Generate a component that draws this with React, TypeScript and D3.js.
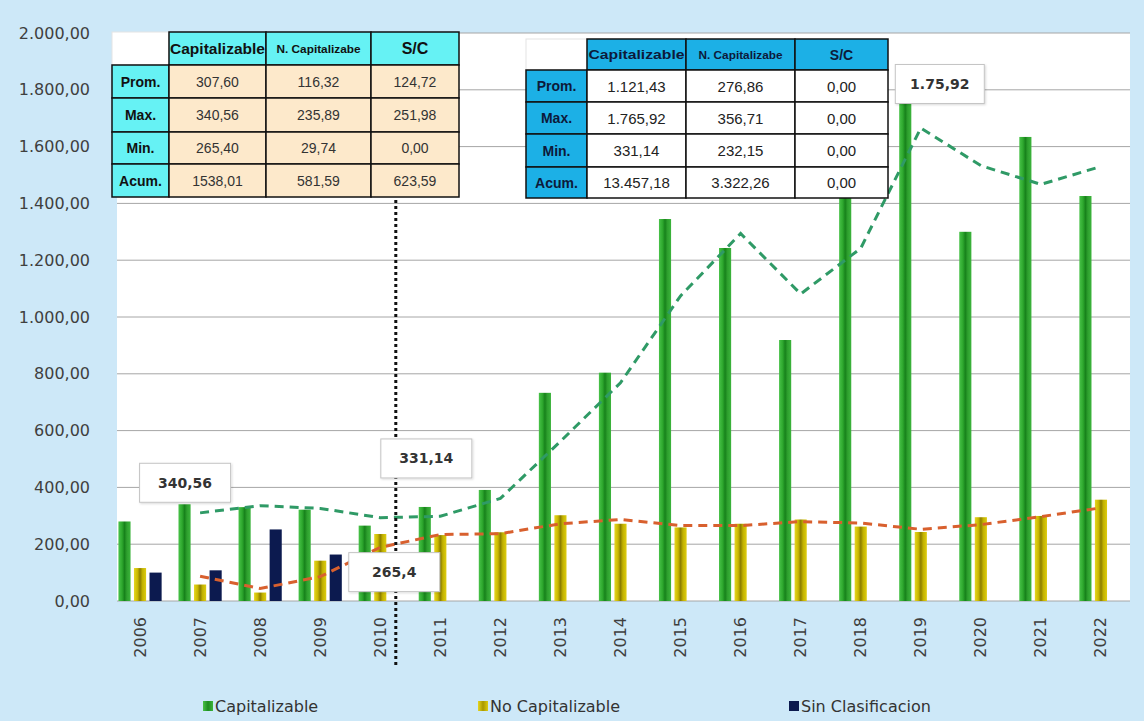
import React from "react";
import * as d3 from "d3";

const years = ["2006","2007","2008","2009","2010","2011","2012","2013","2014","2015","2016","2017","2018","2019","2020","2021","2022"];
const capitalizable = [280, 340.56, 330.5, 321.55, 265.4, 331.14, 391, 733, 804, 1345, 1243, 919, 1565, 1765.92, 1300, 1634, 1426];
const noCapitalizable = [116, 58, 29.74, 142, 235.89, 232.15, 242, 302, 272, 259, 272, 287, 262, 243, 295, 299.4, 356.71];
const sinClasificacion = [100, 108, 251.98, 163.61, 0, 0, 0, 0, 0, 0, 0, 0, 0, 0, 0, 0, 0];
const seriesNames = ["Capitalizable", "No Capitalizable", "Sin Clasificacion"];
const yTicks = [0, 200, 400, 600, 800, 1000, 1200, 1400, 1600, 1800, 2000];

const tableRowLabels = ["Prom.", "Max.", "Min.", "Acum."];
const tableHeaders = ["Capitalizable", "N. Capitalizabe", "S/C"];
const leftTableValues = [
  ["307,60", "116,32", "124,72"],
  ["340,56", "235,89", "251,98"],
  ["265,40", "29,74", "0,00"],
  ["1538,01", "581,59", "623,59"],
];
const rightTableValues = [
  ["1.121,43", "276,86", "0,00"],
  ["1.765,92", "356,71", "0,00"],
  ["331,14", "232,15", "0,00"],
  ["13.457,18", "3.322,26", "0,00"],
];
const callouts = [
  { year: "2007", value: 340.56, label: "340,56", dx: -15, dy: -2, below: false },
  { year: "2011", value: 331.14, label: "331,14", dx: -14, dy: -29, below: false },
  { year: "2010", value: 265.4, label: "265,4", dx: 14, dy: 27, below: true },
  { year: "2019", value: 1765.92, label: "1.75,92", dx: 19, dy: 4, below: false },
];

const W = 1144, H = 721;
const plotLeft = 117, plotRight = 1130, plotTop = 33, plotBottom = 601;

const locale = d3.formatLocale({ decimal: ",", thousands: ".", grouping: [3], currency: ["", ""] });
const fmt = locale.format(",.2f");

export default function App() {
  const x = d3.scaleBand<string>().domain(years).range([110, 1131]).padding(0);
  const inner = d3.scaleBand<string>().domain(seriesNames).range([-21.6, 21.6]).paddingInner(0.22);
  const y = d3.scaleLinear().domain([0, 2000]).range([plotBottom, plotTop]);
  const cx = (yr: string) => (x(yr) as number) + x.bandwidth() / 2;
  const seriesData = [capitalizable, noCapitalizable, sinClasificacion];
  const fills = ["url(#gGreen)", "url(#gYellow)", "#0c1a4f"];

  const ma = (arr: number[]) => arr.map((v, i) => (i === 0 ? null : (v + arr[i - 1]) / 2));
  const line = d3.line<[string, number | null]>()
    .defined(d => d[1] !== null)
    .x(d => cx(d[0]))
    .y(d => y(d[1] as number));
  const maCap = years.map((yr, i) => [yr, ma(capitalizable)[i]] as [string, number | null]);
  const maNo = years.map((yr, i) => [yr, ma(noCapitalizable)[i]] as [string, number | null]);

  const dotX = cx("2010") + (inner("Sin Clasificacion") as number) + inner.bandwidth() / 2;

  const drawTable = (
    x0: number, y0: number, colW: number[], rowH: number[], values: string[][],
    headFill: string, dataFill: string, textColor: string, headColor: string,
    headSizes: number[], dataSize: number, headLens: (number | null)[]
  ) => {
    const xs = [x0];
    colW.forEach(w => xs.push(xs[xs.length - 1] + w));
    const ys = [y0];
    rowH.forEach(h => ys.push(ys[ys.length - 1] + h));
    const els: any[] = [];
    // top-left cell
    els.push(<rect key="tl" x={xs[0]} y={ys[0]} width={colW[0]} height={rowH[0]} fill="#fff" stroke="#e4e4e4" />);
    tableHeaders.forEach((h, j) => {
      els.push(<rect key={"h" + j} x={xs[j + 1]} y={ys[0]} width={colW[j + 1]} height={rowH[0]} fill={headFill} stroke="#111" strokeWidth={1.5} />);
      els.push(
        <text key={"ht" + j} x={xs[j + 1] + colW[j + 1] / 2} y={ys[0] + rowH[0] / 2} textAnchor="middle" dominantBaseline="central"
          fontFamily="'Liberation Sans Narrow', 'Liberation Sans', Arial, sans-serif" fontWeight="bold" fontSize={headSizes[j]} fill={headColor}
          {...(headLens[j] ? { textLength: headLens[j], lengthAdjust: "spacingAndGlyphs" } : {})}>{h}</text>
      );
    });
    tableRowLabels.forEach((r, i) => {
      els.push(<rect key={"r" + i} x={xs[0]} y={ys[i + 1]} width={colW[0]} height={rowH[i + 1]} fill={headFill} stroke="#111" strokeWidth={1.5} />);
      els.push(
        <text key={"rt" + i} x={xs[0] + colW[0] / 2} y={ys[i + 1] + rowH[i + 1] / 2} textAnchor="middle" dominantBaseline="central"
          fontFamily="'Liberation Sans Narrow', 'Liberation Sans', Arial, sans-serif" fontWeight="bold" fontSize={14} fill={headColor}>{r}</text>
      );
      values[i].forEach((v, j) => {
        els.push(<rect key={"c" + i + j} x={xs[j + 1]} y={ys[i + 1]} width={colW[j + 1]} height={rowH[i + 1]} fill={dataFill} stroke="#111" strokeWidth={1.5} />);
        els.push(
          <text key={"ct" + i + j} x={xs[j + 1] + colW[j + 1] / 2} y={ys[i + 1] + rowH[i + 1] / 2} textAnchor="middle" dominantBaseline="central"
            fontFamily="'Liberation Sans Narrow', 'Liberation Sans', Arial, sans-serif" fontSize={dataSize} fill={textColor}>{v}</text>
        );
      });
    });
    return els;
  };

  const legendItems = [
    { name: "Capitalizable", fill: "url(#gGreenL)", x: 203 },
    { name: "No Capitalizable", fill: "url(#gYellowL)", x: 478 },
    { name: "Sin Clasificacion", fill: "#0c1a4f", x: 789 },
  ];

  return (
    <svg width={W} height={H} style={{ position: "absolute", left: 0, top: 0 }} xmlns="http://www.w3.org/2000/svg">
      <defs>
        <linearGradient id="gGreen" x1="0" x2="1" y1="0" y2="0">
          <stop offset="0%" stopColor="#48c248" />
          <stop offset="30%" stopColor="#2ea82e" />
          <stop offset="50%" stopColor="#17821b" />
          <stop offset="70%" stopColor="#2ea02e" />
          <stop offset="100%" stopColor="#3cb43c" />
        </linearGradient>
        <linearGradient id="gYellow" x1="0" x2="1" y1="0" y2="0">
          <stop offset="0%" stopColor="#e6d620" />
          <stop offset="30%" stopColor="#c9b800" />
          <stop offset="50%" stopColor="#8c7e00" />
          <stop offset="70%" stopColor="#c2b200" />
          <stop offset="100%" stopColor="#ddcc10" />
        </linearGradient>
        <linearGradient id="gGreenL" x1="0" x2="1" y1="0" y2="0">
          <stop offset="0%" stopColor="#48c248" />
          <stop offset="50%" stopColor="#1e8c20" />
          <stop offset="100%" stopColor="#3cb43c" />
        </linearGradient>
        <linearGradient id="gYellowL" x1="0" x2="1" y1="0" y2="0">
          <stop offset="0%" stopColor="#e6d620" />
          <stop offset="50%" stopColor="#a89800" />
          <stop offset="100%" stopColor="#ddcc10" />
        </linearGradient>
        <filter id="shadow" x="-10%" y="-10%" width="130%" height="140%">
          <feDropShadow dx="1" dy="1" stdDeviation="1" floodColor="#000" floodOpacity="0.15" />
        </filter>
      </defs>
      <rect x={0} y={0} width={W} height={H} fill="#cde8f8" />
      <rect x={plotLeft} y={plotTop} width={plotRight - plotLeft} height={plotBottom - plotTop} fill="#ffffff" />
      {/* gridlines */}
      {yTicks.map(t => (
        <line key={t} x1={plotLeft} x2={plotRight} y1={y(t)} y2={y(t)} stroke="#a6a6a6" strokeWidth={1} />
      ))}
      {/* y labels */}
      {yTicks.map(t => (
        <text key={"yl" + t} x={90} y={y(t)} textAnchor="end" dominantBaseline="central"
          fontFamily="'DejaVu Sans', Verdana, sans-serif" fontSize={16} fill="#3f3f3f">{fmt(t)}</text>
      ))}
      {/* bars */}
      {seriesData.map((arr, s) => (
        <g key={"s" + s}>
          {arr.map((v, i) => v > 0 ? (
            <rect key={i} x={cx(years[i]) + (inner(seriesNames[s]) as number)} y={y(v)} width={inner.bandwidth()}
              height={y(0) - y(v)} fill={fills[s]} />
          ) : null)}
        </g>
      ))}
      {/* x labels */}
      {years.map(yr => (
        <text key={"xl" + yr} transform={`translate(${cx(yr)},617) rotate(-90)`} textAnchor="end" dominantBaseline="central"
          fontFamily="'DejaVu Sans', Verdana, sans-serif" fontSize={16} fill="#3f3f3f">{yr}</text>
      ))}
      {/* moving averages */}
      <path d={line(maCap) as string} fill="none" stroke="#2f9a66" strokeWidth={3} strokeDasharray="9,6" />
      <path d={line(maNo) as string} fill="none" stroke="#d8602e" strokeWidth={3} strokeDasharray="9,6" />
      {/* dotted divider */}
      <line x1={dotX} x2={dotX} y1={200} y2={665} stroke="#111" strokeWidth={3} strokeDasharray="3,3" />
      {/* callouts */}
      {callouts.map(c => {
        const w = c.label.length > 6 ? 89 : 91;
        const h = 39;
        const xc = cx(c.year) + c.dx;
        const top = c.below ? y(c.value) + c.dy : y(c.value) + c.dy - h;
        return (
          <g key={c.label}>
            <rect x={xc - w / 2} y={top} width={w} height={h} fill="#fff" stroke="#c4c4c4" strokeWidth={1} filter="url(#shadow)" />
            <text x={xc} y={top + h / 2} textAnchor="middle" dominantBaseline="central"
              fontFamily="'DejaVu Sans', Verdana, sans-serif" fontWeight="bold" fontSize={14} fill="#333">{c.label}</text>
          </g>
        );
      })}
      {/* tables */}
      {drawTable(112, 32, [57, 97, 105, 88], [33, 33, 34, 32, 33], leftTableValues,
        "#66f2f4", "#fde9cb", "#333", "#111", [15, 11, 16], 14, [95, 84, null])}
      {drawTable(526, 39, [61, 99, 109, 93], [31, 32, 32, 33, 31], rightTableValues,
        "#1cb0e6", "#ffffff", "#222", "#0d1a3a", [13, 11, 14], 15, [96, 84, null])}
      {/* legend */}
      {legendItems.map(l => (
        <g key={l.name}>
          <rect x={l.x} y={701} width={10} height={10} fill={l.fill} />
          <text x={l.x + 12} y={706} dominantBaseline="central" fontFamily="'DejaVu Sans', Verdana, sans-serif"
            fontSize={16} fill="#333">{l.name}</text>
        </g>
      ))}
    </svg>
  );
}
